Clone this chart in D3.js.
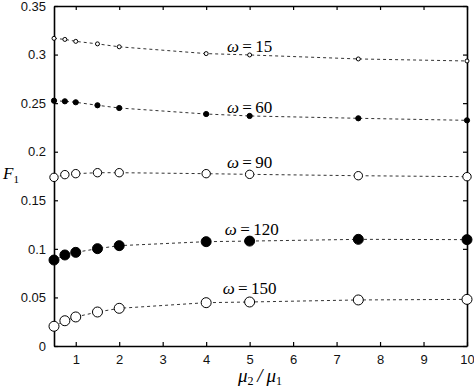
<!DOCTYPE html>
<html>
<head>
<meta charset="utf-8">
<script src="https://cdn.jsdelivr.net/npm/d3@7"></script>
<style>
	body { margin: 0; background: #fff; }
	svg { display: block; }
	.tick text { font-family: 'Liberation Sans', Arial, sans-serif; font-size: 13px; fill: #111; }
	.lbl { font-family: 'Liberation Serif', 'Times New Roman', serif; fill: #000; }
</style>
</head>
<body>
<svg id="chart"></svg>
<script>
// ratio mu2/mu1
const ratios = [0.5, 0.75, 1, 1.5, 2, 4, 5, 7.5, 10];

// F1 values per omega
const f15 = [0.3167, 0.3156, 0.3136, 0.311, 0.308, 0.301, 0.2996, 0.2955, 0.2934];
const f60 = [0.2525, 0.2519, 0.2509, 0.2478, 0.245, 0.2388, 0.2368, 0.2344, 0.2323];
const f90 = [0.1736, 0.1764, 0.1774, 0.1784, 0.1784, 0.1774, 0.1767, 0.1753, 0.1743];
const f120 = [0.0885, 0.0937, 0.0964, 0.1002, 0.1033, 0.1074, 0.108, 0.1098, 0.1095];
const f150 = [0.0203, 0.026, 0.0299, 0.035, 0.0388, 0.0446, 0.0453, 0.0474, 0.048];

const omegaLabels = ['15', '60', '90', '120', '150'];
const xTicks = [1, 2, 3, 4, 5, 6, 7, 8, 9, 10];
const yTicks = [0, 0.05, 0.1, 0.15, 0.2, 0.25, 0.3, 0.35];

const series = [
	{ name: omegaLabels[0], values: f15, r: 2, filled: false, lx: 5, ly: 0.303 },
	{ name: omegaLabels[1], values: f60, r: 2.6, filled: true, lx: 5, ly: 0.240 },
	{ name: omegaLabels[2], values: f90, r: 4.2, filled: false, lx: 5, ly: 0.1835 },
	{ name: omegaLabels[3], values: f120, r: 5, filled: true, lx: 5.05, ly: 0.1145 },
	{ name: omegaLabels[4], values: f150, r: 5, filled: false, lx: 5, ly: 0.0535 },
];

const width = 474, height = 391;
const margin = { top: 6, right: 7, bottom: 45, left: 54 };
const innerW = width - margin.left - margin.right;
const innerH = height - margin.top - margin.bottom;

const svg = d3.select('#chart').attr('width', width).attr('height', height);
const g = svg.append('g').attr('transform', `translate(${margin.left},${margin.top})`);

const x = d3.scaleLinear().domain([0.5, 10]).range([0, innerW]);
const y = d3.scaleLinear().domain([0, 0.35]).range([innerH, 0]);

// axes with inward ticks on all sides
g.append('g')
	.attr('transform', `translate(0,${innerH})`)
	.call(d3.axisBottom(x).tickValues(xTicks).tickSize(-4).tickPadding(9).tickSizeOuter(0).tickFormat(d3.format('d')));
g.append('g')
	.call(d3.axisTop(x).tickValues(xTicks).tickSize(-4).tickSizeOuter(0).tickFormat(''));
g.append('g')
	.call(d3.axisLeft(y).tickValues(yTicks).tickSize(-4).tickPadding(8).tickSizeOuter(0).tickFormat(d => d === 0 ? '0' : String(+d.toFixed(2))));
g.append('g')
	.attr('transform', `translate(${innerW},0)`)
	.call(d3.axisRight(y).tickValues(yTicks).tickSize(-4).tickSizeOuter(0).tickFormat(''));

g.selectAll('.domain').attr('stroke', '#000').attr('stroke-width', 1.6);
g.selectAll('.tick line').attr('stroke', '#000').attr('stroke-width', 1.2);

const line = d3.line().x((d, i) => x(ratios[i])).y(d => y(d));

series.forEach(s => {
	g.append('path')
		.datum(s.values)
		.attr('d', line)
		.attr('fill', 'none')
		.attr('stroke', '#333')
		.attr('stroke-width', 1)
		.attr('stroke-dasharray', '3,3');

	g.selectAll(null)
		.data(s.values)
		.join('circle')
		.attr('cx', (d, i) => x(ratios[i]))
		.attr('cy', d => y(d))
		.attr('r', s.r)
		.attr('fill', s.filled ? '#000' : '#fff')
		.attr('stroke', '#000')
		.attr('stroke-width', 1);

	const t = g.append('text')
		.attr('class', 'lbl')
		.attr('x', x(s.lx))
		.attr('y', y(s.ly))
		.attr('text-anchor', 'middle')
		.style('font-size', '17px');
	t.append('tspan').style('font-style', 'italic').text('\u03c9');
	t.append('tspan').text('\u2009=\u2009' + s.name);
});

// axis titles
const yt = svg.append('text')
	.attr('class', 'lbl')
	.attr('x', 3)
	.attr('y', 179)
	.style('font-size', '17px')
	.style('font-style', 'italic');
yt.append('tspan').text('F');
yt.append('tspan').attr('dy', 4).style('font-size', '11px').style('font-style', 'normal').text('1');

const xt = svg.append('text')
	.attr('class', 'lbl')
	.attr('x', 260)
	.attr('y', 382)
	.attr('text-anchor', 'middle')
	.style('font-size', '19px')
	.style('font-style', 'italic');
xt.append('tspan').text('\u03bc');
xt.append('tspan').attr('dy', 3).style('font-size', '12px').style('font-style', 'normal').text('2');
xt.append('tspan').attr('dy', -3).text('\u2009/\u2009\u03bc');
xt.append('tspan').attr('dy', 3).style('font-size', '12px').style('font-style', 'normal').text('1');
</script>
</body>
</html>
